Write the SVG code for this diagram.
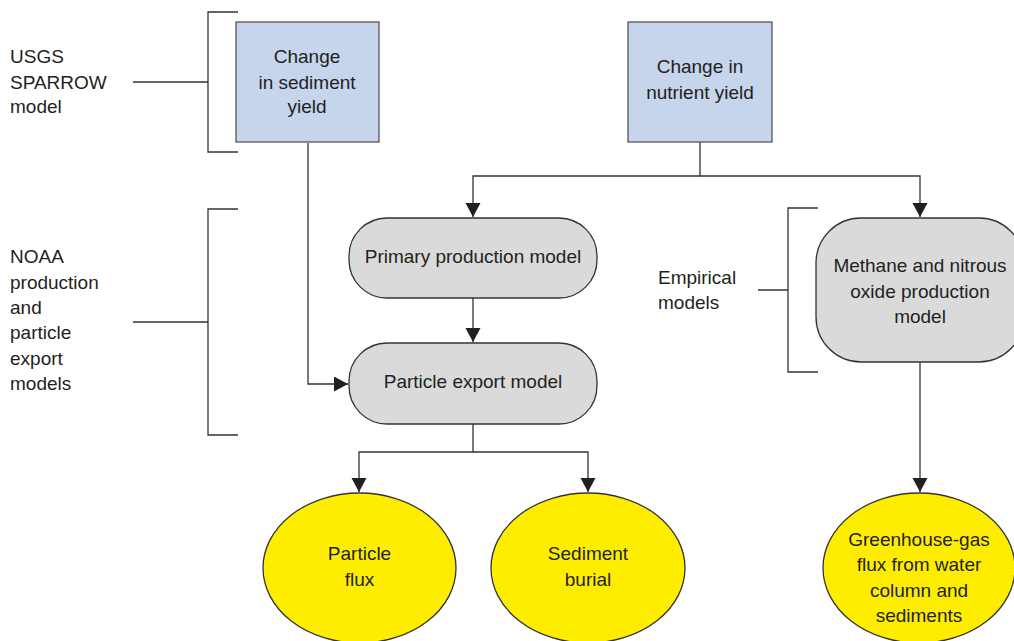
<svg xmlns="http://www.w3.org/2000/svg" width="1014" height="641" viewBox="0 0 1014 641">
<style>
text{font-family:"Liberation Sans",Arial,sans-serif;font-size:19px;fill:#231f20}
.c{text-anchor:middle}
.box{fill:#c6d4ec;stroke:#555;stroke-width:1.3}
.proc{fill:#dadada;stroke:#333;stroke-width:1.3}
.out{fill:#ffed00;stroke:#333;stroke-width:1.3}
.br{fill:none;stroke:#333;stroke-width:1.3}
.cn{fill:none;stroke:#333;stroke-width:1.3}
</style>
<defs>
<marker id="ah" markerUnits="userSpaceOnUse" markerWidth="16" markerHeight="16" refX="14" refY="7.5" orient="auto">
<path d="M0,0 L14,7.5 L0,15 z" fill="#231f20"/>
</marker>
</defs>
<rect width="1014" height="641" fill="#fff"/>
<g id="usgs-label">
<path class="br" d="M238,12 H208 V152 H238 M133,82 H208"/>
<text x="10" y="63">USGS</text>
<text x="10" y="88.5">SPARROW</text>
<text x="10" y="113">model</text>
</g>
<g id="noaa-label">
<path class="br" d="M238,209 H208 V435 H238 M133,322 H208"/>
<text x="10" y="263">NOAA</text>
<text x="10" y="288.5">production</text>
<text x="10" y="314">and</text>
<text x="10" y="339">particle</text>
<text x="10" y="364.5">export</text>
<text x="10" y="390">models</text>
</g>
<g id="empirical-label">
<path class="br" d="M818,208 H788 V372 H818 M758,290 H788"/>
<text x="658" y="284">Empirical</text>
<text x="658" y="309">models</text>
</g>
<g id="connectors">
<path class="cn" stroke="#555" d="M308,143 V384 H348" marker-end="url(#ah)"/>
<path class="cn" d="M700,142 V176 H473 V217" marker-end="url(#ah)"/>
<path class="cn" d="M700,176 H920 V217" marker-end="url(#ah)"/>
<path class="cn" d="M473,298 V342" marker-end="url(#ah)"/>
<path class="cn" d="M473,424 V452 H359 V492" marker-end="url(#ah)"/>
<path class="cn" d="M473,452 H588 V492" marker-end="url(#ah)"/>
<path class="cn" d="M920,362 V492" marker-end="url(#ah)"/>
</g>
<g id="sediment-yield">
<rect class="box" x="236" y="22" width="143" height="120"/>
<text class="c" x="307" y="63">Change</text>
<text class="c" x="307" y="88.5">in sediment</text>
<text class="c" x="307" y="113">yield</text>
</g>
<g id="nutrient-yield">
<rect class="box" x="628" y="22" width="144" height="120"/>
<text class="c" x="700" y="73">Change in</text>
<text class="c" x="700" y="99">nutrient yield</text>
</g>
<g id="primary-production">
<rect class="proc" x="349" y="218" width="248" height="80" rx="38"/>
<text class="c" x="473" y="263">Primary production model</text>
</g>
<g id="particle-export">
<rect class="proc" x="349" y="343" width="248" height="81" rx="38"/>
<text class="c" x="473" y="388">Particle export model</text>
</g>
<g id="methane-model">
<rect class="proc" x="816" y="218" width="208" height="144" rx="45"/>
<text class="c" x="920" y="272">Methane and nitrous</text>
<text class="c" x="920" y="297.5">oxide production</text>
<text class="c" x="920" y="323">model</text>
</g>
<g id="particle-flux">
<ellipse class="out" cx="359.5" cy="568" rx="96.5" ry="75"/>
<text class="c" x="359.5" y="560">Particle</text>
<text class="c" x="359.5" y="586">flux</text>
</g>
<g id="sediment-burial">
<ellipse class="out" cx="588" cy="568" rx="97" ry="75"/>
<text class="c" x="588" y="560">Sediment</text>
<text class="c" x="588" y="586">burial</text>
</g>
<g id="ghg-flux">
<ellipse class="out" cx="919" cy="568" rx="96" ry="75"/>
<text class="c" x="919" y="546">Greenhouse-gas</text>
<text class="c" x="919" y="571">flux from water</text>
<text class="c" x="919" y="597">column and</text>
<text class="c" x="919" y="622">sediments</text>
</g>
</svg>
